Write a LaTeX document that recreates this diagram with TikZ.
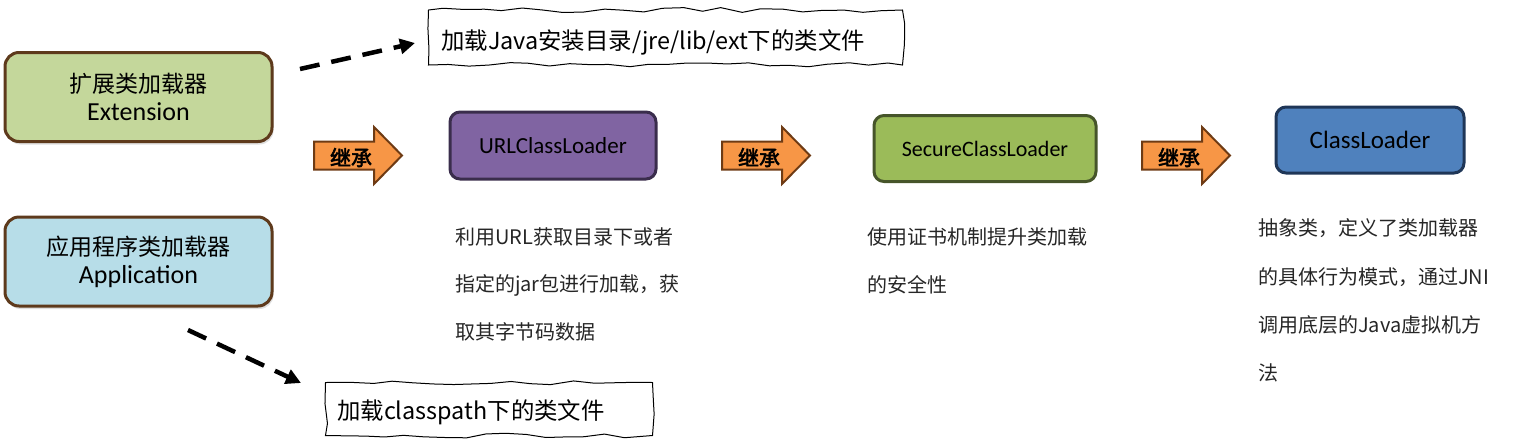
\documentclass[tikz,border=0pt]{standalone}
\usepackage{fontspec}
\setmainfont{Carlito}
\newfontfamily\cjk{Noto Sans CJK SC}
\newfontfamily\cjkb[FakeBold=2.5]{Noto Sans CJK SC}
\usetikzlibrary{arrows.meta,decorations.pathmorphing,shadows}
\definecolor{extfill}{HTML}{C4D79B}
\definecolor{appfill}{HTML}{B7DDE8}
\definecolor{brownline}{HTML}{5E3A1C}
\definecolor{urlfill}{HTML}{8064A2}
\definecolor{urlline}{HTML}{3A2D4C}
\definecolor{secfill}{HTML}{9BBB59}
\definecolor{secline}{HTML}{46552A}
\definecolor{clfill}{HTML}{4F81BD}
\definecolor{clline}{HTML}{1F3657}
\definecolor{arrfill}{HTML}{F79646}
\definecolor{arrline}{HTML}{6E3B14}
\definecolor{desc}{HTML}{262626}
\pgfmathsetseed{7}
\tikzset{
  bigbox/.style={draw=brownline, line width=3pt, rounded corners=14pt, align=center,
    drop shadow={shadow xshift=1.5pt, shadow yshift=-3pt, opacity=0.25},
    font=\fontsize{26}{28}\selectfont, text=black},
  loader/.style={line width=3pt, rounded corners=10pt, text=black},
  desctext/.style={anchor=west, inner sep=0pt, text=desc, font=\cjk\fontsize{20}{24}\selectfont},
  notebox/.style={draw=black, line width=1pt, decorate,
    decoration={random steps, segment length=20pt, amplitude=2.4pt}},
  notetext/.style={anchor=west, inner sep=0pt, text=black, font=\cjk\fontsize{23.4}{26}\selectfont},
  dasharrow/.style={line width=4.5pt, dash pattern=on 20pt off 12pt,
    -{Triangle[length=15pt,width=15pt]}},
  inh/.pic={
    \draw[fill=arrfill, draw=arrline, line width=2pt, line join=miter]
      (0,-14) -- (60,-14) -- (60,-28.5) -- (88,0) -- (60,28.5) -- (60,14) -- (0,14) -- cycle;
    \node[inner sep=0pt, text=black, font=\cjkb\fontsize{21}{22}\selectfont] (-t) at (37,2) {继承};
  }
}
\begin{document}
\begin{tikzpicture}[x=1pt,y=-1pt]
\useasboundingbox (0,0) rectangle (1518,445);

% left boxes
\node[bigbox, fill=extfill, minimum width=267pt, minimum height=89pt] (ext) at (138.5,97)
  {{\cjk\fontsize{23}{28}\selectfont 扩展类加载器}\\Extension};
\node[bigbox, fill=appfill, minimum width=267pt, minimum height=89pt] (app) at (138.5,261.5)
  {{\cjk\fontsize{23}{28}\selectfont 应用程序类加载器}\\Application};

% notes
\node[notebox, minimum width=474pt, minimum height=55pt, anchor=north west] (n1) at (428,9.5) {};
\node[notetext] (n1t) at (441,42) {加载Java安装目录/jre/lib/ext下的类文件};
\node[notebox, minimum width=327pt, minimum height=53pt, anchor=north west] (n2) at (325,382) {};
\node[notetext] (n2t) at (337,412) {加载classpath下的类文件};

% dashed arrows
\coordinate (a1s) at (300,69);
\coordinate (a1e) at (415,43);
\draw[dasharrow] (a1s) -- (a1e);
\coordinate (a2s) at (188,330);
\coordinate (a2e) at (301,383);
\draw[dasharrow] (a2s) -- (a2e);

% loader boxes
\node[loader, draw=urlline, fill=urlfill, minimum width=206pt, minimum height=67pt,
  font=\fontsize{23}{26}\selectfont] (url) at (553,145.5) {URLClassLoader};
\node[loader, draw=secline, fill=secfill, minimum width=222pt, minimum height=66pt,
  font=\fontsize{22}{26}\selectfont] (sec) at (985,148.5) {SecureClassLoader};
\node[loader, draw=clline, fill=clfill, minimum width=188pt, minimum height=66pt,
  font=\fontsize{25}{28}\selectfont] (cl) at (1370,140) {ClassLoader};

% inheritance arrows
\pic (i1) at (314,155.5) {inh};
\pic (i2) at (722,155.5) {inh};
\pic (i3) at (1142,155.5) {inh};

% descriptions
\node[desctext] (d1a) at (455,237) {利用URL获取目录下或者};
\node[desctext] (d1b) at (455,285) {指定的jar包进行加载，获};
\node[desctext] (d1c) at (455,332) {取其字节码数据};
\node[desctext] (d2a) at (867,237) {使用证书机制提升类加载};
\node[desctext] (d2b) at (867,285) {的安全性};
\node[desctext] (d3a) at (1258,228) {抽象类，定义了类加载器};
\node[desctext] (d3b) at (1258,277) {的具体行为模式，通过JNI};
\node[desctext] (d3c) at (1258,325) {调用底层的Java虚拟机方};
\node[desctext] (d3d) at (1258,373) {法};
\end{tikzpicture}
\end{document}
